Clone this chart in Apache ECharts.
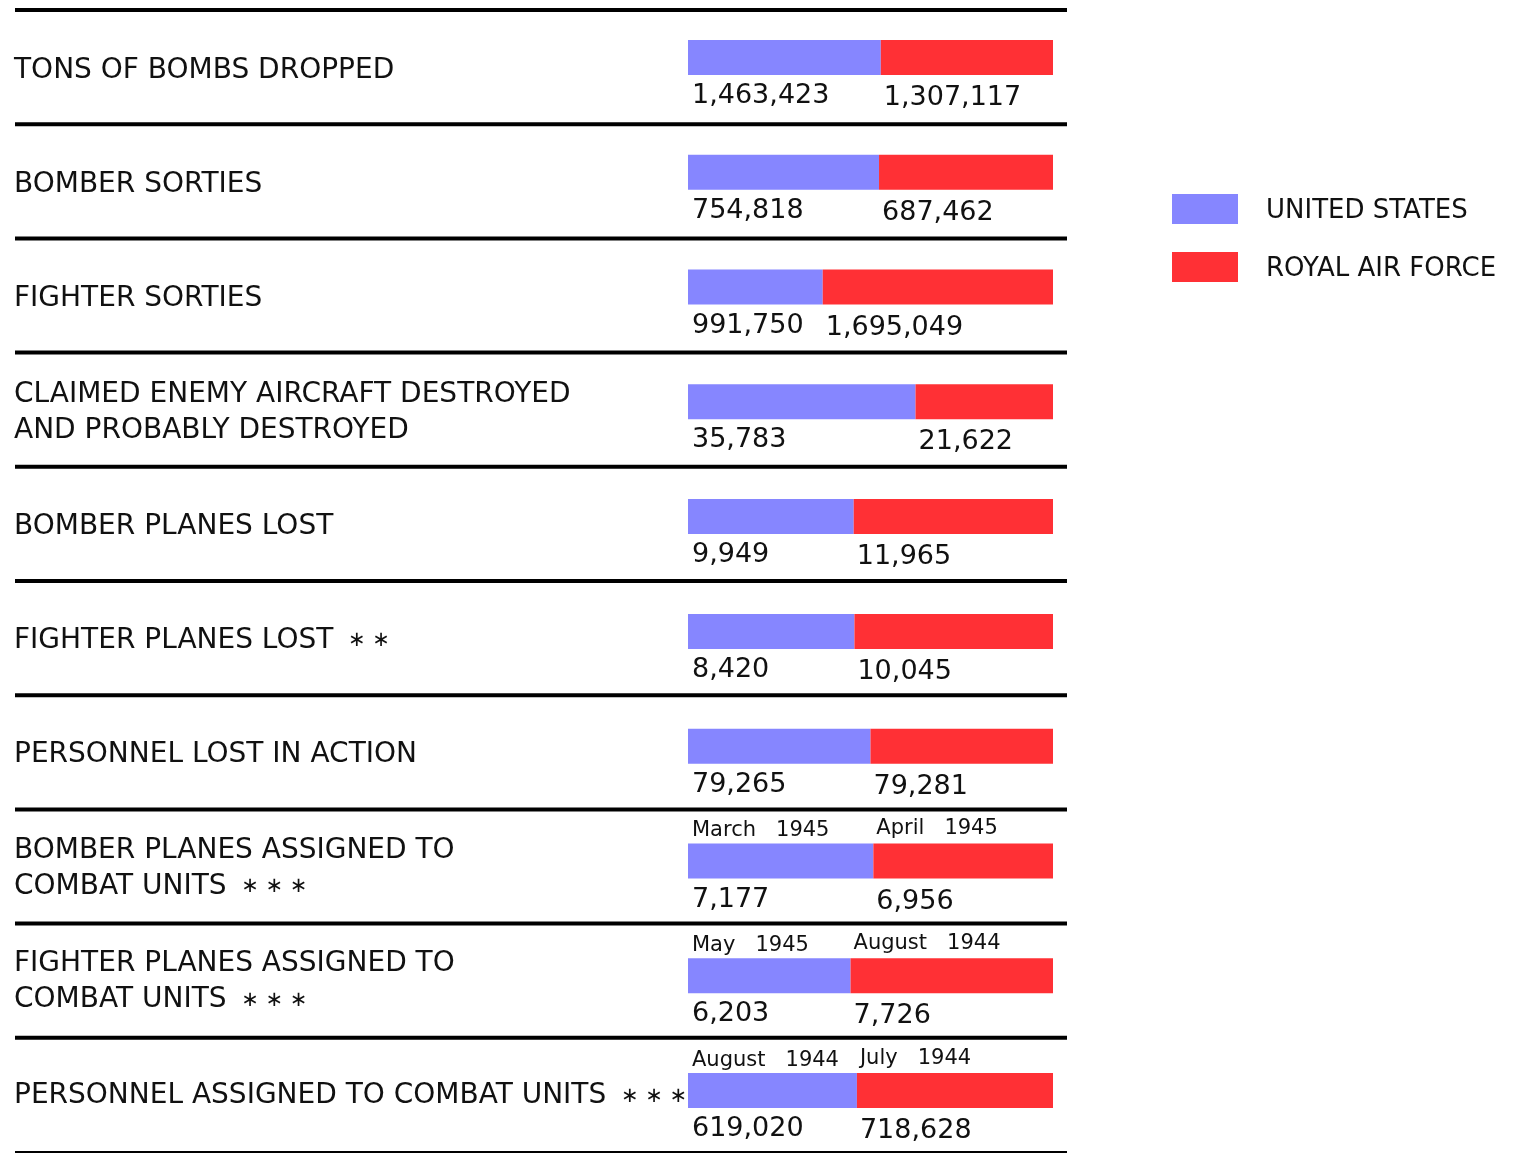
<!DOCTYPE html>
<html>
<head>
<meta charset="utf-8">
<script src="https://cdn.jsdelivr.net/npm/echarts@6/dist/echarts.min.js"></script>
<style>
  html, body { margin: 0; padding: 0; background: #fff; }
  #chart { width: 1513px; height: 1153px; }
</style>
</head>
<body>
<div id="chart"></div>
<script>
// Row titles (top to bottom); trailing asterisks mark footnotes
const categories = [
  'TONS OF BOMBS DROPPED',
  'BOMBER SORTIES',
  'FIGHTER SORTIES',
  'CLAIMED ENEMY AIRCRAFT DESTROYED\nAND PROBABLY DESTROYED',
  'BOMBER PLANES LOST',
  'FIGHTER PLANES LOST  * *',
  'PERSONNEL LOST IN ACTION',
  'BOMBER PLANES ASSIGNED TO\nCOMBAT UNITS  * * *',
  'FIGHTER PLANES ASSIGNED TO\nCOMBAT UNITS  * * *',
  'PERSONNEL ASSIGNED TO COMBAT UNITS  * * *'
];

const usValues  = [1463423, 754818, 991750, 35783, 9949, 8420, 79265, 7177, 6203, 619020];
const rafValues = [1307117, 687462, 1695049, 21622, 11965, 10045, 79281, 6956, 7726, 718628];

// Dates the "assigned" figures refer to
const usDates  = ['', '', '', '', '', '', '', 'March   1945', 'May   1945', 'August   1944'];
const rafDates = ['', '', '', '', '', '', '', 'April   1945', 'August   1944', 'July   1944'];

const seriesNames = ['UNITED STATES', 'ROYAL AIR FORCE'];
const colors = ['#8686ff', '#ff3035'];

const FONT = 'DejaVu Sans';
const fmt = v => v.toLocaleString('en-US');

// each bar is the share of the row total
const totals = usValues.map((v, i) => v + rafValues[i]);
const usShare = usValues.map((v, i) => v / totals[i]);
const rafShare = rafValues.map((v, i) => v / totals[i]);

// row title: plain text plus centred footnote stars
function titleFormatter(value) {
  return value.split('\n').map(line => {
    const m = line.match(/^(.*?)\s*(\*[\s*]*)$/);
    if (!m) return '{t|' + line + '}';
    const stars = m[2].trim().replace(/\*/g, '\u2217');
    return '{t|' + m[1] + '}{s|\u2002\u2009' + stars + '}';
  }).join('\n');
}

function barLabel(raw, dates, offset, gap) {
  return {
    show: true,
    position: offset,
    color: '#111',
    fontFamily: FONT,
    formatter: p => '{d|' + (dates[p.dataIndex] || ' ') + '}\n{g| }\n{v|' + fmt(raw[p.dataIndex]) + '}',
    rich: {
      d: { fontSize: 21, lineHeight: 24, fontFamily: FONT, color: '#111' },
      g: { fontSize: 12, lineHeight: gap },
      v: { fontSize: 27, lineHeight: 24, fontFamily: FONT, color: '#111' }
    }
  };
}

// horizontal rules between rows
const ruleCount = categories.length + 1;
const ruleTop = 10, rowPitch = 114.2;
const rules = [];
for (let k = 0; k < ruleCount; k++) {
  const yc = ruleTop + rowPitch * k;
  const h = k === ruleCount - 1 ? 2 : 4;
  rules.push({
    type: 'rect',
    shape: { x: 15, y: yc - h / 2, width: 1052, height: h },
    style: { fill: '#000' },
    silent: true
  });
}

const chart = echarts.init(document.getElementById('chart'), null, { renderer: 'canvas' });
chart.setOption({
  animation: false,
  backgroundColor: '#fff',
  textStyle: { fontFamily: FONT },
  grid: [
    // row titles, one band per ruled row (titles sit slightly below centre)
    { left: 688, width: 365, top: ruleTop + 4, height: rowPitch * categories.length },
    // bars
    { left: 688, width: 365, top: -2, height: 1150 }
  ],
  xAxis: [
    { gridIndex: 0, type: 'value', min: 0, max: 1, show: false },
    { gridIndex: 1, type: 'value', min: 0, max: 1, show: false }
  ],
  yAxis: [
    {
      gridIndex: 0,
      type: 'category',
      data: categories,
      inverse: true,
      axisLine: { show: false },
      axisTick: { show: false },
      splitLine: { show: false },
      axisLabel: {
        align: 'left',
        margin: 674,
        formatter: titleFormatter,
        rich: {
          t: { fontSize: 28, lineHeight: 36, color: '#111', fontFamily: FONT },
          s: { fontSize: 21, lineHeight: 36, color: '#111', fontFamily: FONT }
        }
      }
    },
    {
      gridIndex: 1,
      type: 'category',
      data: categories,
      inverse: true,
      show: false
    }
  ],
  legend: {
    orient: 'vertical',
    left: 1172,
    top: 194,
    padding: 0,
    itemWidth: 66,
    itemHeight: 30,
    itemGap: 28,
    icon: 'rect',
    data: seriesNames,
    formatter: '{n|{name}}',
    textStyle: {
      color: '#111',
      fontFamily: FONT,
      fontSize: 26,
      rich: { n: { fontSize: 26, fontFamily: FONT, color: '#111', padding: [4, 0, 0, 23] } }
    }
  },
  graphic: rules,
  series: [
    {
      name: seriesNames[0],
      type: 'bar',
      xAxisIndex: 1,
      yAxisIndex: 1,
      stack: 'total',
      barWidth: 35,
      itemStyle: { color: colors[0] },
      label: barLabel(usValues, usDates, [4, -25], 45),
      data: usShare
    },
    {
      name: seriesNames[1],
      type: 'bar',
      xAxisIndex: 1,
      yAxisIndex: 1,
      stack: 'total',
      barWidth: 35,
      itemStyle: { color: colors[1] },
      label: barLabel(rafValues, rafDates, [3, -27], 49),
      data: rafShare
    }
  ]
});
</script>
</body>
</html>
